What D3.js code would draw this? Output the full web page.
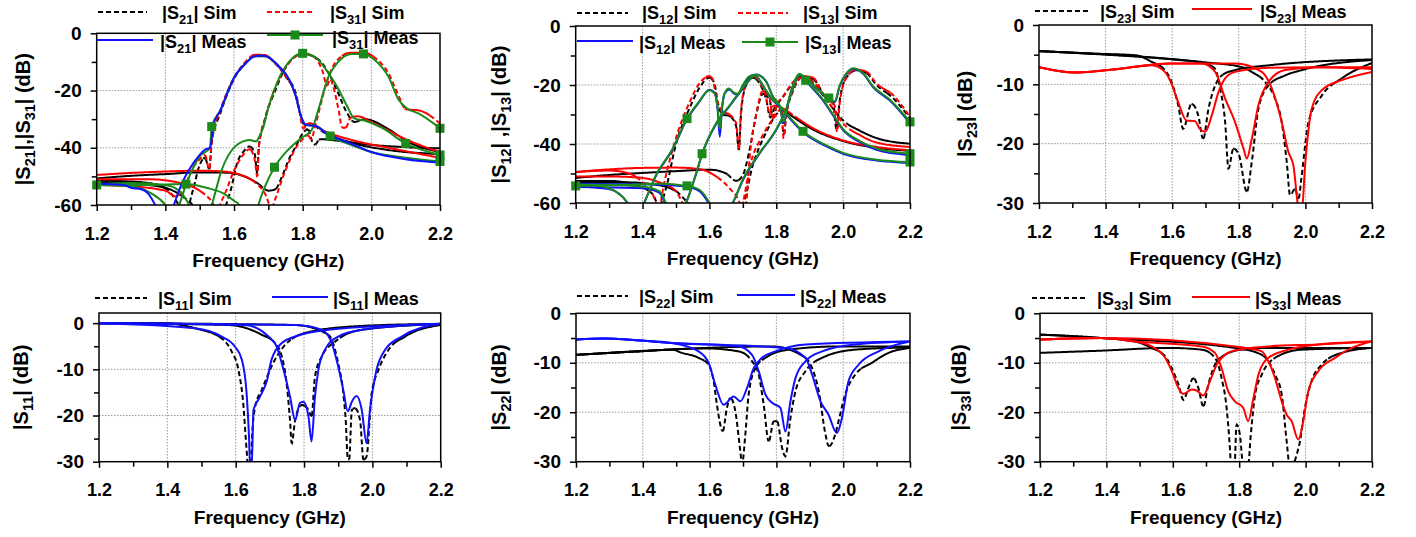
<!DOCTYPE html>
<html>
<head>
<meta charset="utf-8">
<script src="https://cdn.jsdelivr.net/npm/d3@7"></script>
<style>
  body { margin: 0; background: #fff; }
  text { font-family: "Liberation Sans", Arial, sans-serif; font-weight: bold; }
</style>
</head>
<body>
<div id="chart"></div>
<script>
// ---- axis ticks ----
var freqMajor = [1.2, 1.4, 1.6, 1.8, 2.0, 2.2];
var freqMinor = [1.3, 1.5, 1.7, 1.9, 2.1];
var dbMajor60 = [0, -20, -40, -60], dbMinor60 = [-10, -30, -50];
var dbMajor30 = [0, -10, -20, -30], dbMinor30 = [-5, -15, -25];

// ---- panel 1 : |S21|, |S31| ----
var p1S21Sim = [
  [[1.2,-50.7],[1.3,-49.8],[1.4,-49.2],[1.5,-48.6],[1.58,-48.7],[1.63,-50],[1.67,-52.5],[1.7,-55],[1.72,-54.5],[1.74,-50],[1.76,-44],[1.78,-39.5],[1.8,-35],[1.815,-33.5],[1.83,-38.5],[1.835,-39],[1.85,-37],[1.9,-37.5],[2.0,-39],[2.1,-39.8],[2.2,-40.2]],
  [[1.2,-51.5],[1.3,-51.8],[1.38,-53],[1.42,-56.5],[1.44,-60],[1.46,-62],[1.48,-55],[1.5,-46],[1.515,-43.5],[1.528,-47.5],[1.535,-38],[1.56,-28],[1.6,-16],[1.63,-10.5],[1.66,-8],[1.69,-8],[1.72,-10.5],[1.75,-15],[1.78,-21],[1.795,-29],[1.805,-32],[1.82,-31.5],[1.86,-34.5],[1.95,-38.5],[2.05,-40.8],[2.2,-42.2]],
  [[1.2,-52],[1.3,-52.5],[1.4,-54],[1.45,-57],[1.48,-60],[1.5,-63],[1.56,-63],[1.59,-55],[1.61,-45],[1.63,-41],[1.645,-39.5],[1.66,-42],[1.668,-49],[1.672,-40],[1.69,-30],[1.72,-20],[1.75,-12],[1.78,-8],[1.8,-7.2],[1.83,-8],[1.86,-11],[1.88,-15],[1.9,-20],[1.93,-28],[1.95,-31],[1.98,-30],[2.05,-33.5],[2.1,-37.5],[2.2,-41.5]]
];
var p1S31Sim = [
  [[1.2,-49.5],[1.3,-48.8],[1.4,-48.3],[1.5,-48],[1.57,-48.3],[1.62,-49.5],[1.66,-52],[1.69,-56],[1.71,-61],[1.72,-58],[1.74,-51],[1.76,-45],[1.78,-40],[1.8,-37],[1.815,-35.5],[1.825,-37],[1.835,-33],[1.85,-26],[1.87,-17],[1.9,-9.5],[1.94,-6.8],[1.98,-6.8],[2.01,-8.5],[2.05,-14],[2.08,-22],[2.1,-26.5],[2.14,-27],[2.2,-31.5]],
  [[1.2,-53],[1.3,-53.5],[1.4,-55],[1.43,-57],[1.45,-55],[1.48,-47],[1.5,-44],[1.515,-42.5],[1.528,-47.5],[1.535,-38],[1.56,-27],[1.6,-15.5],[1.63,-10.5],[1.66,-7.5],[1.69,-7.6],[1.72,-10.5],[1.75,-15],[1.78,-22],[1.79,-27],[1.797,-31.5],[1.803,-33.5],[1.81,-32],[1.82,-31.5],[1.86,-34],[1.95,-37.5],[2.05,-40],[2.2,-43.5]],
  [[1.2,-51],[1.35,-51],[1.45,-52.5],[1.5,-55],[1.53,-58],[1.55,-61],[1.57,-57],[1.6,-48],[1.63,-42],[1.645,-40.5],[1.66,-44],[1.668,-50],[1.672,-40],[1.69,-30],[1.72,-19],[1.75,-12],[1.78,-8],[1.8,-7],[1.83,-8],[1.85,-11],[1.86,-14],[1.87,-18.5],[1.88,-16],[1.89,-19],[1.905,-27],[1.915,-33],[1.925,-33],[1.94,-29.5],[1.96,-29],[2.0,-31],[2.05,-34],[2.1,-37],[2.2,-41.5]]
];
var p1S21Meas = [
  [[1.2,-52.5],[1.25,-52.8],[1.28,-53],[1.3,-54],[1.33,-54.5],[1.35,-56],[1.37,-60],[1.39,-66],[1.41,-66],[1.425,-60],[1.45,-52],[1.47,-47.5],[1.5,-42.5],[1.515,-40.7],[1.53,-40],[1.535,-37],[1.54,-32],[1.56,-27],[1.58,-21],[1.6,-15.5],[1.63,-11],[1.66,-8],[1.68,-7.8],[1.7,-8.3],[1.73,-11.5],[1.76,-16],[1.78,-22],[1.795,-29],[1.81,-32],[1.84,-32.5],[1.87,-35],[1.94,-38.5],[2.0,-41.5],[2.1,-44],[2.2,-45.2]]
];
var p1S31Meas = [
  [[1.2,-52.7],[1.3,-52.3],[1.4,-53],[1.44,-55],[1.47,-60],[1.49,-65],[1.52,-65],[1.535,-60],[1.564,-47.8],[1.603,-39.6],[1.645,-37.3],[1.665,-37.8],[1.672,-36.5],[1.685,-33],[1.7,-26],[1.73,-16],[1.76,-10],[1.8,-7],[1.84,-8.7],[1.87,-13],[1.9,-18.6],[1.93,-25.6],[1.95,-29.7],[1.98,-30.5],[2.03,-33],[2.1,-38.5],[2.2,-42.5]],
  [[1.2,-53],[1.35,-53],[1.46,-52.7],[1.52,-54],[1.57,-56],[1.6,-58.5],[1.615,-60],[1.63,-65],[1.66,-65],[1.671,-60],[1.69,-53.6],[1.718,-46.8],[1.757,-40.8],[1.795,-36.7],[1.826,-33.8],[1.845,-27],[1.875,-15.2],[1.904,-9.9],[1.943,-7.2],[1.977,-7.2],[2.01,-9.3],[2.05,-15.2],[2.08,-23.3],[2.103,-26.2],[2.137,-28],[2.2,-33.2]],
  [[1.2,-53],[1.3,-53.5],[1.36,-56],[1.4,-60],[1.42,-64],[1.44,-60],[1.46,-53],[1.5,-43],[1.53,-40],[1.535,-32.6],[1.56,-27],[1.6,-15.5],[1.63,-11],[1.66,-8],[1.68,-7.8],[1.7,-8.3],[1.73,-11.5],[1.76,-16],[1.78,-22],[1.795,-29],[1.81,-32],[1.84,-32.5],[1.88,-35.9],[1.94,-39],[2.0,-41.5],[2.1,-43.5],[2.2,-44.8]]
];
var p1S31Marks = [[1.8, 2.1, 2.2], [1.2, 1.46, 1.718, 1.977, 2.2], [1.535, 1.88, 2.2]];

// ---- panel 2 : |S12|, |S13| ----
var p2S12Sim = [
  [[1.2,-51.5],[1.3,-50.5],[1.4,-49.8],[1.5,-49.2],[1.6,-48.7],[1.65,-50],[1.68,-52.5],[1.7,-50.5],[1.72,-42],[1.74,-30],[1.76,-23],[1.78,-25],[1.79,-31],[1.8,-27.5],[1.82,-24],[1.85,-19.5],[1.875,-17.3],[1.9,-18.5],[1.93,-22],[1.95,-25],[1.97,-28],[2.0,-32],[2.05,-35.5],[2.1,-38],[2.2,-39.9]],
  [[1.2,-52.5],[1.3,-52.5],[1.38,-54],[1.43,-57],[1.45,-61],[1.47,-55],[1.5,-40],[1.54,-28],[1.57,-21],[1.6,-17.5],[1.615,-19.5],[1.625,-26],[1.64,-30],[1.66,-30.5],[1.68,-34],[1.688,-42],[1.695,-29],[1.71,-20],[1.73,-17.5],[1.75,-19.5],[1.77,-25],[1.782,-31],[1.8,-27],[1.84,-30],[1.9,-34.5],[2.0,-39],[2.1,-41.3],[2.2,-42.3]],
  [[1.2,-53],[1.35,-53],[1.45,-54],[1.5,-56],[1.55,-61],[1.6,-62],[1.66,-62],[1.7,-60],[1.73,-47],[1.77,-36],[1.8,-30],[1.815,-28.5],[1.822,-37],[1.83,-30],[1.85,-22],[1.88,-17.2],[1.91,-18],[1.95,-24.5],[1.97,-26],[1.98,-35],[1.99,-25],[2.01,-17.5],[2.04,-15],[2.07,-16],[2.1,-20],[2.15,-24.5],[2.2,-31.3]]
];
var p2S13Sim = [
  [[1.2,-49.5],[1.3,-48.6],[1.4,-48.1],[1.5,-48],[1.57,-48.5],[1.62,-51],[1.66,-55],[1.69,-60],[1.7,-64],[1.71,-60],[1.72,-45],[1.74,-30],[1.76,-22],[1.78,-24.5],[1.79,-31.5],[1.8,-27],[1.82,-24],[1.85,-19],[1.88,-17],[1.9,-18],[1.93,-21.5],[1.95,-25],[1.97,-28],[2.0,-33],[2.05,-37],[2.1,-39.5],[2.2,-41]],
  [[1.2,-49.5],[1.3,-49],[1.36,-50],[1.4,-53],[1.43,-57],[1.45,-62],[1.46,-56],[1.5,-38],[1.54,-26],[1.57,-19.5],[1.6,-17],[1.61,-18],[1.62,-24],[1.64,-29],[1.66,-30],[1.68,-33],[1.688,-42],[1.695,-28],[1.71,-19.5],[1.73,-17],[1.75,-19],[1.77,-24.5],[1.78,-30],[1.79,-27],[1.82,-28],[1.86,-31],[1.9,-34],[2.0,-38.8],[2.1,-41],[2.2,-42.1]],
  [[1.2,-51],[1.3,-51],[1.4,-51.5],[1.45,-53],[1.5,-56],[1.52,-60],[1.54,-63],[1.6,-64],[1.68,-64],[1.7,-60],[1.72,-48],[1.76,-37],[1.8,-30],[1.815,-28],[1.822,-38],[1.83,-30],[1.85,-22],[1.88,-17],[1.91,-17.5],[1.94,-23],[1.96,-25.5],[1.975,-27],[1.982,-36],[1.99,-26],[2.01,-17.5],[2.04,-14.8],[2.07,-15.5],[2.1,-19.5],[2.15,-23.5],[2.2,-30.8]]
];
var p2S12Meas = [
  [[1.2,-54.3],[1.3,-55.3],[1.355,-60],[1.37,-64],[1.39,-64],[1.405,-60],[1.44,-50.8],[1.49,-41.8],[1.533,-31.6],[1.568,-26],[1.6,-21.6],[1.615,-22.5],[1.625,-29],[1.631,-37.5],[1.637,-29],[1.645,-23],[1.66,-21.5],[1.672,-22.8],[1.685,-23.3],[1.7,-20.3],[1.72,-17.2],[1.735,-16.5],[1.75,-18.3],[1.77,-22],[1.79,-25.2],[1.81,-27.3],[1.84,-31.3],[1.88,-36],[1.95,-40.8],[2.0,-43.3],[2.1,-45.6],[2.2,-46.4]],
  [[1.2,-54.6],[1.4,-55],[1.45,-56.5],[1.47,-60.5],[1.5,-66],[1.53,-60],[1.56,-50.2],[1.578,-43.5],[1.62,-33.2],[1.66,-27.2],[1.7,-21.2],[1.74,-16.4],[1.77,-18.8],[1.79,-24],[1.81,-27.2],[1.822,-33],[1.835,-26.2],[1.85,-20.2],[1.87,-16.5],[1.888,-18.6],[1.91,-21.3],[1.94,-25.3],[1.97,-30.3],[2.0,-35.3],[2.05,-39.4],[2.1,-42],[2.2,-43.8]],
  [[1.2,-53.5],[1.45,-53.8],[1.533,-54.5],[1.57,-56],[1.6,-60.5],[1.62,-65],[1.66,-62],[1.67,-60],[1.7,-52.3],[1.75,-43.2],[1.8,-35.2],[1.83,-28.2],[1.85,-21.2],[1.87,-16.8],[1.89,-17.7],[1.92,-21.2],[1.957,-24.6],[1.975,-25.8],[1.99,-20.3],[2.01,-16.2],[2.03,-14.6],[2.06,-16.2],[2.09,-20.8],[2.14,-25.3],[2.2,-33]]
];
var p2S13Meas = [
  [[1.2,-54],[1.25,-54],[1.3,-55],[1.33,-57],[1.355,-60],[1.37,-64],[1.39,-64],[1.405,-60],[1.44,-50.6],[1.49,-41.6],[1.533,-31.4],[1.568,-25.8],[1.6,-21.8],[1.615,-22.8],[1.625,-28],[1.631,-35],[1.637,-28],[1.645,-23],[1.658,-21.2],[1.672,-22.5],[1.685,-23],[1.7,-20],[1.72,-17],[1.735,-16.7],[1.75,-18.5],[1.77,-22],[1.79,-25],[1.81,-27],[1.84,-31],[1.88,-35.7],[1.95,-40.5],[2.0,-43],[2.1,-45.3],[2.2,-46.1]],
  [[1.2,-54.2],[1.3,-54],[1.4,-54.5],[1.45,-56],[1.47,-60],[1.5,-66],[1.53,-60],[1.56,-50],[1.578,-43.3],[1.62,-33],[1.66,-27],[1.7,-21],[1.74,-16.5],[1.77,-19],[1.79,-24],[1.81,-27],[1.822,-32.5],[1.835,-26],[1.85,-20],[1.87,-16.2],[1.888,-18.4],[1.91,-21],[1.94,-25],[1.97,-30],[2.0,-35],[2.05,-39],[2.1,-41.5],[2.2,-43.3]],
  [[1.2,-53.8],[1.35,-53.8],[1.45,-53.5],[1.533,-54.2],[1.57,-55.5],[1.6,-60],[1.62,-65],[1.66,-62],[1.67,-60],[1.7,-52],[1.75,-43],[1.8,-35],[1.83,-28],[1.85,-21],[1.87,-16.5],[1.89,-17.5],[1.92,-21],[1.957,-24.4],[1.975,-25.5],[1.99,-20],[2.01,-16],[2.03,-14.3],[2.06,-16],[2.09,-20.5],[2.14,-25],[2.2,-32.5]]
];
var p2S13Marks = [[1.533, 1.88, 2.2], [1.2, 1.578, 1.888, 2.2], [1.533, 1.957, 2.2]];

// ---- panel 3 : |S23| ----
var p3S23Sim = [
  [[1.2,-4.4],[1.35,-4.8],[1.49,-5.1],[1.538,-6.2],[1.578,-7.6],[1.598,-9.6],[1.618,-13.5],[1.633,-17.5],[1.658,-13.3],[1.678,-15.2],[1.693,-19.2],[1.709,-14.1],[1.729,-10.2],[1.749,-8.5],[1.789,-7.6],[1.889,-6.8],[2.2,-5.8]],
  [[1.2,-4.4],[1.4,-5.0],[1.6,-5.8],[1.7,-6.5],[1.729,-7.4],[1.744,-10.7],[1.759,-16.4],[1.769,-24.2],[1.784,-20.8],[1.801,-22],[1.824,-28.1],[1.839,-23.1],[1.859,-14.1],[1.889,-10.2],[1.939,-8.5],[1.989,-7.6],[2.2,-5.9]],
  [[1.2,-4.4],[1.5,-5.3],[1.7,-6.3],[1.809,-7.1],[1.839,-7.9],[1.879,-9.6],[1.909,-12.4],[1.929,-16.4],[1.944,-23.1],[1.954,-28.7],[1.969,-27.6],[1.979,-29.3],[1.989,-25.3],[2.009,-16.4],[2.049,-11.9],[2.109,-9.0],[2.2,-6.4]]
];
var p3S23Meas = [
  [[1.2,-7.1],[1.308,-8.0],[1.438,-7.4],[1.538,-6.8],[1.578,-7.9],[1.598,-9.9],[1.618,-13.0],[1.643,-16.1],[1.668,-16.2],[1.683,-17.5],[1.699,-18.0],[1.719,-15.2],[1.739,-11.3],[1.759,-9.0],[1.789,-7.9],[1.889,-7.2],[2.039,-7.1],[2.2,-7.1]],
  [[1.2,-7.1],[1.308,-8.0],[1.438,-7.4],[1.588,-6.5],[1.688,-6.5],[1.729,-7.9],[1.759,-12.4],[1.789,-16.4],[1.814,-20.8],[1.824,-22.5],[1.839,-19.2],[1.859,-13.5],[1.889,-9.6],[1.939,-7.6],[2.039,-7.1],[2.2,-7.4]],
  [[1.2,-7.1],[1.308,-8.0],[1.438,-7.4],[1.6,-6.5],[1.789,-6.5],[1.869,-7.9],[1.899,-10.7],[1.929,-16.4],[1.949,-21.4],[1.964,-23.7],[1.974,-28.7],[1.98,-31.5],[1.989,-31.5],[1.999,-23.7],[2.019,-14.1],[2.049,-11.0],[2.109,-9.3],[2.2,-7.9]]
];

// ---- panel 4 : |S11| ----
var p4S11Sim = [
  [[1.2,0],[1.383,0],[1.481,-1.1],[1.559,-3.3],[1.588,-6.1],[1.608,-10.1],[1.622,-17.3],[1.632,-27.5],[1.637,-31.8],[1.644,-31.8],[1.647,-26],[1.657,-18.1],[1.676,-14.5],[1.715,-7.9],[1.754,-4.0],[1.822,-1.8],[1.969,-0.6],[2.2,-0.15]],
  [[1.2,0],[1.579,-0.4],[1.676,-2.5],[1.715,-4.3],[1.735,-7.2],[1.749,-13],[1.759,-21],[1.764,-26],[1.774,-21],[1.793,-17.7],[1.813,-18.8],[1.822,-20.2],[1.832,-11.6],[1.852,-7.2],[1.891,-4.0],[1.969,-1.45],[2.2,-0.2]],
  [[1.2,0],[1.774,-0.4],[1.871,-2.5],[1.881,-3.6],[1.9,-8.7],[1.915,-15.2],[1.922,-21],[1.928,-29.3],[1.932,-29.6],[1.94,-18.8],[1.949,-18.4],[1.964,-21],[1.974,-29.6],[1.983,-28.9],[1.998,-15.2],[2.018,-10.1],[2.047,-5.8],[2.096,-2.9],[2.2,-0.4]]
];
var p4S11Meas = [
  [[1.2,0],[1.481,-1.1],[1.559,-2.9],[1.598,-5.1],[1.618,-7.9],[1.632,-15.2],[1.639,-24.6],[1.642,-31],[1.647,-31],[1.652,-18.8],[1.666,-16.6],[1.676,-15.2],[1.691,-12.6],[1.705,-7.9],[1.735,-4.3],[1.774,-2.9],[1.871,-1.45],[2.2,-0.15]],
  [[1.2,0],[1.627,-0.4],[1.696,-2.9],[1.72,-5.1],[1.74,-10.1],[1.759,-15.9],[1.774,-21],[1.788,-17.3],[1.798,-17],[1.813,-20.2],[1.822,-25.6],[1.832,-15.9],[1.842,-10.1],[1.861,-5.8],[1.9,-2.9],[1.969,-1.45],[2.2,-0.15]],
  [[1.2,0],[1.774,-0.4],[1.852,-1.45],[1.881,-4.3],[1.9,-9.4],[1.915,-14.5],[1.928,-19.1],[1.94,-17],[1.954,-15.8],[1.969,-18.8],[1.983,-26],[1.993,-18.8],[2.008,-11.6],[2.037,-5.8],[2.086,-2.9],[2.2,-0.15]]
];

// ---- panel 5 : |S22| ----
var p5S22Sim = [
  [[1.2,-8.4],[1.388,-7.7],[1.487,-7.35],[1.517,-8.0],[1.567,-9.0],[1.597,-10.4],[1.612,-13.7],[1.622,-18.5],[1.632,-22.5],[1.639,-23.9],[1.652,-19.1],[1.662,-17.1],[1.677,-19.8],[1.692,-27.9],[1.697,-30.6],[1.707,-24.5],[1.717,-16.4],[1.737,-11.1],[1.767,-9.0],[1.837,-7.35],[1.986,-6.7],[2.2,-6.7]],
  [[1.2,-8.4],[1.388,-7.7],[1.587,-7.1],[1.687,-7.7],[1.727,-9.7],[1.747,-12.4],[1.762,-18.5],[1.777,-25.9],[1.792,-21.8],[1.802,-21.8],[1.817,-27.2],[1.827,-28.9],[1.842,-21.2],[1.857,-15.8],[1.887,-11.7],[1.937,-9.0],[2.036,-7.35],[2.2,-6.9]],
  [[1.2,-8.4],[1.4,-7.6],[1.787,-6.7],[1.887,-9.0],[1.907,-11.1],[1.927,-15.8],[1.947,-24.5],[1.957,-26.9],[1.976,-24.5],[1.986,-21.8],[2.006,-16.4],[2.036,-12.4],[2.086,-10.0],[2.136,-8.0],[2.2,-7.0]]
];
var p5S22Meas = [
  [[1.2,-5.3],[1.288,-5.1],[1.388,-5.5],[1.487,-6.0],[1.567,-7.7],[1.597,-10.0],[1.617,-14.4],[1.642,-18.5],[1.672,-16.8],[1.692,-17.8],[1.712,-15.1],[1.732,-11.1],[1.757,-9.0],[1.797,-7.7],[1.887,-6.3],[2.2,-5.7]],
  [[1.2,-5.3],[1.288,-5.1],[1.487,-6.0],[1.687,-6.7],[1.727,-8.4],[1.747,-11.7],[1.767,-16.4],[1.787,-18.1],[1.812,-19.1],[1.827,-23.9],[1.842,-17.8],[1.857,-13.1],[1.887,-9.7],[1.937,-7.7],[2.036,-6.3],[2.2,-5.7]],
  [[1.2,-5.3],[1.288,-5.1],[1.487,-6.0],[1.827,-7.0],[1.887,-9.0],[1.907,-12.4],[1.932,-17.8],[1.956,-20.5],[1.981,-24.2],[1.996,-21.2],[2.016,-13.7],[2.046,-10.4],[2.106,-7.7],[2.2,-5.7]]
];

// ---- panel 6 : |S33| ----
var p6S33Sim = [
  [[1.2,-4.3],[1.386,-5.0],[1.486,-5.7],[1.536,-7.0],[1.577,-8.7],[1.597,-11.1],[1.617,-14.4],[1.632,-17.5],[1.647,-15.1],[1.662,-13.1],[1.677,-15.1],[1.692,-18.8],[1.707,-14.4],[1.727,-10.4],[1.757,-8.4],[1.807,-7.35],[1.888,-7.0],[2.2,-7.0]],
  [[1.2,-8.0],[1.386,-7.55],[1.587,-7.0],[1.687,-7.35],[1.727,-9.0],[1.747,-13.1],[1.762,-19.1],[1.772,-27.2],[1.777,-32.6],[1.785,-32.6],[1.792,-22.5],[1.802,-24.5],[1.812,-30.6],[1.827,-30.6],[1.835,-24.5],[1.848,-16.4],[1.868,-12.4],[1.908,-9.0],[1.988,-7.35],[2.2,-7.0]],
  [[1.2,-4.3],[1.386,-5.0],[1.787,-7.0],[1.868,-8.4],[1.888,-9.7],[1.908,-12.4],[1.928,-16.4],[1.943,-25.9],[1.953,-31.3],[1.963,-30.6],[1.973,-28.6],[1.983,-25.9],[1.998,-19.1],[2.018,-13.7],[2.048,-10.4],[2.109,-8.0],[2.2,-7.0]]
];
var p6S33Meas = [
  [[1.2,-5.3],[1.386,-5.0],[1.486,-5.7],[1.536,-6.7],[1.577,-9.0],[1.597,-11.7],[1.617,-15.1],[1.632,-16.3],[1.657,-15.4],[1.672,-15.6],[1.692,-16.6],[1.712,-13.7],[1.732,-10.4],[1.757,-8.4],[1.797,-7.35],[1.888,-6.7],[2.038,-6.3],[2.2,-5.7]],
  [[1.2,-5.3],[1.386,-5.0],[1.486,-5.7],[1.687,-6.7],[1.727,-8.0],[1.747,-11.1],[1.767,-15.8],[1.787,-17.8],[1.812,-19.1],[1.827,-21.8],[1.843,-17.1],[1.858,-12.4],[1.888,-9.0],[1.948,-7.35],[2.038,-6.3],[2.2,-5.7]],
  [[1.2,-5.3],[1.386,-5.0],[1.787,-6.7],[1.868,-7.7],[1.888,-9.7],[1.908,-13.1],[1.928,-17.8],[1.943,-20.5],[1.958,-21.8],[1.978,-25.5],[1.993,-21.8],[2.008,-15.8],[2.038,-11.7],[2.089,-9.0],[2.139,-7.0],[2.2,-5.7]]
];

// ---- drawing ----
var BLACK = "#000000", RED = "#ff0000", BLUE = "#1010ff", GREEN = "#1a8a1a";

var svg = d3.select("#chart").append("svg")
    .attr("width", 1416)
    .attr("height", 537);

function rich(sel, parts, shift) {
    parts.forEach(function(p, i) {
        var t = sel.append("tspan").text(p);
        if (i % 2 === 1) t.attr("font-size", "0.72em").attr("dy", shift);
        else if (i > 0) t.attr("dy", -shift);
    });
}

// dense simulated traces look solid where flat and dashed where steep
function drawSim(parent, d, color) {
    var tmp = parent.append("path").attr("d", d).attr("fill", "none");
    var node = tmp.node(), len = node.getTotalLength();
    var pts = [];
    for (var s = 0; s <= len; s += 1.5) { var q = node.getPointAtLength(s); pts.push([q.x, q.y]); }
    var q2 = node.getPointAtLength(len); pts.push([q2.x, q2.y]);
    tmp.remove();
    var runs = [], cur = null;
    for (var i = 1; i < pts.length; i++) {
        var dx = pts[i][0] - pts[i-1][0], dy = pts[i][1] - pts[i-1][1];
        var steep = Math.abs(dy) > 0.7 * Math.abs(dx);
        if (!cur || cur.steep !== steep) { cur = {steep: steep, p: [pts[i-1]]}; runs.push(cur); }
        cur.p.push(pts[i]);
    }
    var lin = d3.line();
    runs.forEach(function(r) {
        parent.append("path").attr("d", lin(r.p))
            .attr("fill", "none").attr("stroke", color).attr("stroke-width", 2)
            .attr("stroke-dasharray", r.steep ? "5,3" : null);
    });
}

var panels = [
  {l:96.7, r:440, t:33.3, b:205, yd:[-60,0], maj:dbMajor60, min:dbMinor60,
   ylab:["|S","21","|,|S","31","| (dB)"], ylx:30,
   series:[{d:p1S21Sim,c:BLACK,dash:1},{d:p1S31Sim,c:RED,dash:1},{d:p1S31Meas,c:GREEN,m:p1S31Marks},{d:p1S21Meas,c:BLUE}],
   legend:[
     {x1:98,x2:147,y:12,tx:162,ty:19,t:["|S","21","| Sim"],c:BLACK,dash:1},
     {x1:267,x2:313,y:12,tx:330,ty:19,t:["|S","31","| Sim"],c:RED,dash:1},
     {x1:97,x2:153,y:40,tx:160,ty:48,t:["|S","21","| Meas"],c:BLUE},
     {x1:267,x2:323,y:35,tx:332,ty:44,t:["|S","31","| Meas"],c:GREEN,mk:1}]},
  {l:575.7, r:910, t:26, b:203, yd:[-60,0], maj:dbMajor60, min:dbMinor60,
   ylab:["|S","12","| ,|S","13","| (dB)"], ylx:506,
   series:[{d:p2S12Sim,c:BLACK,dash:1},{d:p2S13Sim,c:RED,dash:1},{d:p2S12Meas,c:BLUE},{d:p2S13Meas,c:GREEN,m:p2S13Marks}],
   legend:[
     {x1:577,x2:628,y:13,tx:642,ty:19,t:["|S","12","| Sim"],c:BLACK,dash:1},
     {x1:738,x2:788,y:13,tx:803,ty:19,t:["|S","13","| Sim"],c:RED,dash:1},
     {x1:577,x2:633,y:41,tx:639,ty:49,t:["|S","12","| Meas"],c:BLUE},
     {x1:742,x2:798,y:42,tx:805,ty:49,t:["|S","13","| Meas"],c:GREEN,mk:1}]},
  {l:1039, r:1372, t:25, b:203, yd:[-30,0], maj:dbMajor30, min:dbMinor30,
   ylab:["|S","23","| (dB)"], ylx:972,
   series:[{d:p3S23Sim,c:BLACK,dash:1},{d:p3S23Meas,c:RED}],
   legend:[
     {x1:1035,x2:1088,y:11,tx:1100,ty:18,t:["|S","23","| Sim"],c:BLACK,dash:1},
     {x1:1192,x2:1252,y:9,tx:1260,ty:18,t:["|S","23","| Meas"],c:RED}]},
  {l:99, r:440.7, t:313, b:461.7, yd:[-30,2.2], maj:dbMajor30, min:dbMinor30,
   ylab:["|S","11","| (dB)"], ylx:28,
   series:[{d:p4S11Sim,c:BLACK,dash:1},{d:p4S11Meas,c:BLUE}],
   legend:[
     {x1:95,x2:147,y:298,tx:158,ty:305,t:["|S","11","| Sim"],c:BLACK,dash:1},
     {x1:272,x2:328,y:297,tx:333,ty:305,t:["|S","11","| Meas"],c:BLUE}]},
  {l:576, r:910, t:313.3, b:461.7, yd:[-30,0], maj:dbMajor30, min:dbMinor30,
   ylab:["|S","22","| (dB)"], ylx:506,
   series:[{d:p5S22Sim,c:BLACK,dash:1},{d:p5S22Meas,c:BLUE}],
   legend:[
     {x1:577,x2:628,y:296,tx:639,ty:303,t:["|S","22","| Sim"],c:BLACK,dash:1},
     {x1:737,x2:795,y:295,tx:800,ty:303,t:["|S","22","| Meas"],c:BLUE}]},
  {l:1040, r:1372, t:313.3, b:461.7, yd:[-30,0], maj:dbMajor30, min:dbMinor30,
   ylab:["|S","33","| (dB)"], ylx:966,
   series:[{d:p6S33Sim,c:BLACK,dash:1},{d:p6S33Meas,c:RED}],
   legend:[
     {x1:1032,x2:1085,y:298,tx:1097,ty:305,t:["|S","33","| Sim"],c:BLACK,dash:1},
     {x1:1192,x2:1250,y:297,tx:1255,ty:305,t:["|S","33","| Meas"],c:RED}]}
];

panels.forEach(function(p, pi) {
    var x = d3.scaleLinear().domain([1.2, 2.2]).range([p.l, p.r]);
    var y = d3.scaleLinear().domain(p.yd).range([p.b, p.t]);
    var g = svg.append("g");

    // grid
    g.selectAll(".gx").data(freqMajor.slice(1, -1)).enter().append("line")
        .attr("x1", d => x(d)).attr("x2", d => x(d)).attr("y1", p.t).attr("y2", p.b)
        .attr("stroke", "#999").attr("stroke-width", 1).attr("stroke-dasharray", "1.5,1.5");
    g.selectAll(".gy").data(p.maj.filter(d => d > p.yd[0] && d < 0)).enter().append("line")
        .attr("y1", d => y(d)).attr("y2", d => y(d)).attr("x1", p.l).attr("x2", p.r)
        .attr("stroke", "#999").attr("stroke-width", 1).attr("stroke-dasharray", "1.5,1.5");

    // curves
    var clipId = "clip" + pi;
    svg.append("clipPath").attr("id", clipId).append("rect")
        .attr("x", p.l).attr("y", p.t).attr("width", p.r - p.l).attr("height", p.b - p.t);
    var line = d3.line().x(d => x(d[0])).y(d => y(d[1])).curve(d3.curveMonotoneX);
    var cg = g.append("g").attr("clip-path", "url(#" + clipId + ")");
    p.series.forEach(function(s) {
        s.d.forEach(function(curve) {
            if (s.dash) { drawSim(cg, line(curve), s.c); return; }
            cg.append("path").attr("d", line(curve))
                .attr("fill", "none").attr("stroke", s.c).attr("stroke-width", 2);
        });
    });
    p.series.forEach(function(s) {
        if (!s.m) return;
        s.d.forEach(function(curve, ci) {
            var pts = curve.filter(d => s.m[ci].some(f => Math.abs(f - d[0]) < 1e-9));
            g.selectAll(null).data(pts).enter().append("rect")
                .attr("x", d => x(d[0]) - 4.5).attr("y", d => y(d[1]) - 4.5)
                .attr("width", 9).attr("height", 9).attr("fill", s.c);
        });
    });

    // axes
    var fontAttrs = function(sel) {
        sel.attr("font-family", "'Liberation Sans', Arial, sans-serif")
           .attr("font-weight", "bold").attr("font-size", 18);
        sel.select(".domain").remove();
        sel.selectAll("line").attr("stroke-width", 1.5);
    };
    g.append("g").attr("transform", "translate(0," + p.b + ")")
        .call(d3.axisBottom(x).tickValues(freqMajor).tickSize(6).tickPadding(16).tickFormat(d3.format(".1f")))
        .call(fontAttrs);
    g.append("g").attr("transform", "translate(0," + p.b + ")")
        .call(d3.axisBottom(x).tickValues(freqMinor).tickSize(5).tickFormat(""))
        .call(fontAttrs);
    g.append("g").attr("transform", "translate(" + p.l + ",0)")
        .call(d3.axisLeft(y).tickValues(p.maj).tickSize(6).tickPadding(9).tickFormat(d => String(d)))
        .call(fontAttrs).attr("font-size", 19);
    g.append("g").attr("transform", "translate(" + p.l + ",0)")
        .call(d3.axisLeft(y).tickValues(p.min).tickSize(5).tickFormat(""))
        .call(fontAttrs);

    // frame
    g.append("rect").attr("x", p.l).attr("y", p.t).attr("width", p.r - p.l).attr("height", p.b - p.t)
        .attr("fill", "none").attr("stroke", "#000").attr("stroke-width", 1.5);

    // axis titles
    g.append("text").attr("x", (p.l + p.r) / 2).attr("y", p.b + 62)
        .attr("text-anchor", "middle").attr("font-size", 19).text("Frequency (GHz)");
    var yt = g.append("text").attr("text-anchor", "middle").attr("font-size", 20)
        .attr("transform", "translate(" + p.ylx + "," + ((p.t + p.b) / 2) + ") rotate(-90)");
    rich(yt, p.ylab, 5);

    // legend
    p.legend.forEach(function(e) {
        g.append("line").attr("x1", e.x1).attr("x2", e.x2).attr("y1", e.y).attr("y2", e.y)
            .attr("stroke", e.c).attr("stroke-width", 2)
            .attr("stroke-dasharray", e.dash ? "5,3" : null);
        if (e.mk) {
            g.append("rect").attr("x", (e.x1 + e.x2) / 2 - 4.5).attr("y", e.y - 4.5)
                .attr("width", 9).attr("height", 9).attr("fill", e.c);
        }
        var t = g.append("text").attr("x", e.tx).attr("y", e.ty).attr("font-size", 18);
        rich(t, e.t, 5);
    });
});
</script>
</body>
</html>
